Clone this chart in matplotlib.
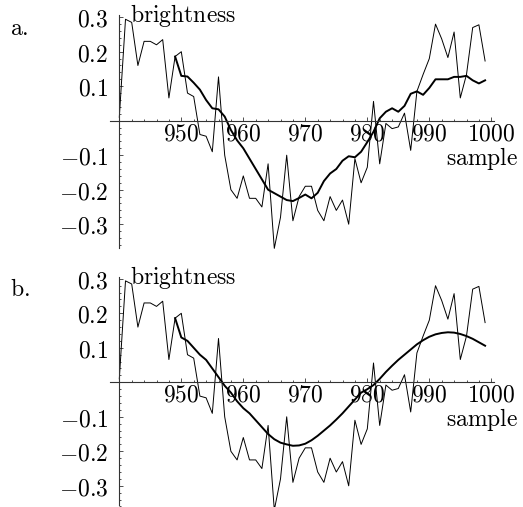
import numpy as np
import matplotlib
matplotlib.use("Agg")
import matplotlib.pyplot as plt
from matplotlib.ticker import FixedLocator, FixedFormatter

plt.rcParams['mathtext.fontset'] = 'cm'

# samples 940..999
samples = list(range(940, 1000))
brightness = [0.01, 0.294, 0.285, 0.16, 0.23, 0.23, 0.22, 0.235, 0.066, 0.186,
              0.20, 0.08, 0.07, -0.04, -0.045, -0.09, 0.127, -0.1, -0.2, -0.225,
              -0.16, -0.225, -0.225, -0.25, -0.125, -0.37, -0.28, -0.1, -0.29, -0.22,
              -0.19, -0.19, -0.26, -0.29, -0.22, -0.26, -0.23, -0.30, -0.11, -0.18,
              -0.135, 0.056, -0.125, -0.008, -0.023, -0.018, 0.022, -0.086, 0.085, 0.134,
              0.18, 0.28, 0.237, 0.183, 0.257, 0.066, 0.134, 0.27, 0.278, 0.173]

# smoothed curve (panel a), samples 949..999
smooth_x = list(range(949, 1000))
smooth = [0.186, 0.13, 0.128, 0.11, 0.09, 0.06, 0.036, 0.033, 0.012, -0.027,
          -0.057, -0.08, -0.11, -0.14, -0.17, -0.2, -0.21, -0.22, -0.23, -0.233,
          -0.224, -0.214, -0.225, -0.209, -0.175, -0.153, -0.14, -0.116, -0.103, -0.106,
          -0.09, -0.062, -0.032, 0.007, 0.026, 0.036, 0.026, 0.043, 0.078, 0.085,
          0.075, 0.095, 0.12, 0.12, 0.12, 0.127, 0.127, 0.13, 0.117, 0.108, 0.117]

# fitted curve (panel b), samples 949..999
fit_x = list(range(949, 1000))
fit = [0.186, 0.13, 0.12, 0.10, 0.08, 0.065, 0.04, 0.015, -0.01, -0.03,
       -0.055, -0.075, -0.09, -0.11, -0.13, -0.15, -0.165, -0.175, -0.18, -0.184,
       -0.183, -0.178, -0.168, -0.155, -0.14, -0.125, -0.108, -0.09, -0.07, -0.05,
       -0.03, -0.02, -0.008, 0.01, 0.03, 0.048, 0.065, 0.08, 0.095, 0.11,
       0.122, 0.132, 0.139, 0.143, 0.145, 0.144, 0.14, 0.134, 0.126, 0.116, 0.106]

xticks = [950, 960, 970, 980, 990, 1000]
yticks = [-0.3, -0.2, -0.1, 0.1, 0.2, 0.3]

W, H = 523, 507
fig = plt.figure(figsize=(W / 100, H / 100), dpi=100)
XS, YS = 6.2, 345.0  # px per unit
FS = 17


def make_axes(y0_px, ylim, label):
    xlim = (938.5, 1002)
    left = 119.3 - (940 - xlim[0]) * XS
    top = y0_px - ylim[1] * YS
    w = (xlim[1] - xlim[0]) * XS
    h = (ylim[1] - ylim[0]) * YS
    ax = fig.add_axes([left / W, 1 - (top + h) / H, w / W, h / H])
    ax.set_xlim(xlim)
    ax.set_ylim(ylim)
    ax.patch.set_alpha(0)
    for s in ['top', 'right']:
        ax.spines[s].set_visible(False)
    ax.spines['left'].set_position(('data', 940))
    ax.spines['bottom'].set_position(('data', 0))
    ax.spines['left'].set_bounds(ylim[0] + 0.005, 0.306)
    ax.spines['bottom'].set_bounds(938.5, 1000.5)
    for s in ['left', 'bottom']:
        ax.spines[s].set_linewidth(0.8)
        ax.spines[s].set_color('#333333')
    ax.xaxis.set_major_locator(FixedLocator(xticks))
    ax.xaxis.set_major_formatter(FixedFormatter([r'$%d$' % t for t in xticks]))
    ax.xaxis.set_minor_locator(FixedLocator(list(range(942, 1001, 2))))
    ax.yaxis.set_major_locator(FixedLocator(yticks))
    ax.yaxis.set_major_formatter(FixedFormatter([r'$%.1f$' % t for t in yticks]))
    ax.yaxis.set_minor_locator(FixedLocator([v / 100 for v in range(-36, 31, 2)]))
    ax.tick_params(which='both', direction='in', width=0.6, color='#333333')
    ax.tick_params(which='major', length=3)
    ax.tick_params(which='minor', length=1.5)
    ax.tick_params(axis='x', which='major', pad=0.5, labelsize=FS)
    ax.tick_params(axis='y', which='major', pad=8, labelsize=FS)
    ax.text(941.7, 0.286, r'$\mathrm{brightness}$', fontsize=FS, va='baseline', ha='left')
    ax.text(992.7, -0.128, r'$\mathrm{sample}$', fontsize=FS, va='baseline', ha='left')
    fig.text(10 / W, 1 - (y0_px - 86) / H, r'$\mathrm{a.}$' if label == 'a' else r'$\mathrm{b.}$',
             fontsize=FS, va='baseline', ha='left')
    return ax


ax1 = make_axes(120.7, (-0.375, 0.315), 'a')
ax1.plot(samples, brightness, color='black', lw=0.7, clip_on=False)
ax1.plot(smooth_x, smooth, color='black', lw=1.4, clip_on=False)

ax2 = make_axes(382.3, (-0.36, 0.315), 'b')
ax2.plot(samples, brightness, color='black', lw=0.7, clip_on=False)
ax2.plot(fit_x, fit, color='black', lw=1.4, clip_on=False)

fig.savefig('out.png', dpi=100)
